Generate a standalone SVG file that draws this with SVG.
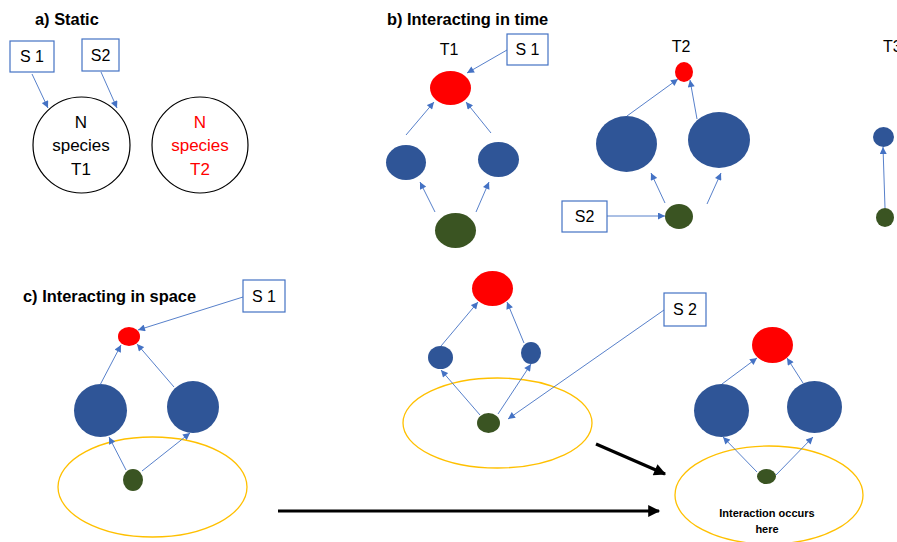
<svg xmlns="http://www.w3.org/2000/svg" width="897" height="542" viewBox="0 0 897 542">
  <style>
    text { font-family: "Liberation Sans", Arial, sans-serif; fill: #000; }
    .title { font-size: 16.4px; font-weight: bold; }
    .lbl { font-size: 16px; text-anchor: middle; }
    .big { font-size: 17px; }
    .box { fill: #fff; stroke: #4472C4; stroke-width: 1.2; }
    .ring { fill: #fff; stroke: #000; stroke-width: 1.2; }
    .red { fill: #FF0000; }
    .blue { fill: #2F5597; }
    .green { fill: #3A5422; }
    .area { fill: none; stroke: #FFC000; stroke-width: 1.3; }
    .link { stroke: #4472C4; stroke-width: 0.9; fill: none; marker-end: url(#tip); }
    .move { stroke: #000; stroke-width: 3.2; fill: none; marker-end: url(#bigtip); }
    .note { font-size: 11px; font-weight: bold; text-anchor: middle; }
  </style>
  <defs>
    <marker id="tip" viewBox="0 0 10 10" refX="10" refY="5" markerWidth="8" markerHeight="7" markerUnits="userSpaceOnUse" orient="auto">
      <path d="M0,0 L10,5 L0,10 z" fill="#4472C4"/>
    </marker>
    <marker id="bigtip" viewBox="0 0 10 10" refX="9" refY="5" markerWidth="14" markerHeight="12" markerUnits="userSpaceOnUse" orient="auto">
      <path d="M0,0 L10,5 L0,10 z" fill="#000"/>
    </marker>
  </defs>

  <!-- panel titles -->
  <text class="title" x="35" y="25">a) Static</text>
  <text class="title" x="387" y="25">b) Interacting in time</text>
  <text class="title" x="23" y="302">c) Interacting in space</text>

  <!-- a) static -->
  <g id="a-s1"><rect class="box" x="10" y="41" width="44" height="31"/><text class="lbl" x="32" y="62">S 1</text></g>
  <g id="a-s2"><rect class="box" x="82" y="39" width="37" height="32"/><text class="lbl" x="100.5" y="61">S2</text></g>
  <g id="a-t1">
    <ellipse class="ring" cx="81.5" cy="145" rx="48.5" ry="48"/>
    <text class="lbl big" x="81" y="128">N</text>
    <text class="lbl big" x="81" y="151">species</text>
    <text class="lbl big" x="81" y="175">T1</text>
  </g>
  <g id="a-t2">
    <ellipse class="ring" cx="200" cy="145" rx="48" ry="48"/>
    <text class="lbl big" x="200" y="128" style="fill:#FF0000">N</text>
    <text class="lbl big" x="200" y="151" style="fill:#FF0000">species</text>
    <text class="lbl big" x="200" y="175" style="fill:#FF0000">T2</text>
  </g>

  <!-- b) interacting in time -->
  <text class="lbl" x="449" y="55">T1</text>
  <text class="lbl" x="681" y="52">T2</text>
  <text class="lbl" x="883" y="52" style="text-anchor:start">T3</text>
  <g id="b-s1"><rect class="box" x="507" y="34" width="41" height="31"/><text class="lbl" x="527.5" y="55">S 1</text></g>
  <g id="b1-top"><ellipse class="red" cx="450.5" cy="88" rx="20.5" ry="17"/></g>
  <g id="b1-midl"><ellipse class="blue" cx="406" cy="162.5" rx="20" ry="17.5"/></g>
  <g id="b1-midr"><ellipse class="blue" cx="498.5" cy="159.5" rx="20.5" ry="17.5"/></g>
  <g id="b1-base"><ellipse class="green" cx="455.5" cy="230.5" rx="20.5" ry="17.5"/></g>

  <g id="b-s2"><rect class="box" x="562" y="201" width="45" height="31"/><text class="lbl" x="584.5" y="222">S2</text></g>
  <g id="b2-top"><ellipse class="red" cx="684" cy="72" rx="9" ry="10"/></g>
  <g id="b2-midl"><ellipse class="blue" cx="626.5" cy="144" rx="30.5" ry="28"/></g>
  <g id="b2-midr"><ellipse class="blue" cx="719" cy="140" rx="31" ry="28"/></g>
  <g id="b2-base"><ellipse class="green" cx="679" cy="216.5" rx="14" ry="12.5"/></g>

  <g id="b3-mid"><ellipse class="blue" cx="883.5" cy="137" rx="10.5" ry="10"/></g>
  <g id="b3-base"><ellipse class="green" cx="885" cy="217.5" rx="9" ry="9.5"/></g>

  <!-- c) interacting in space -->
  <g id="c-s1"><rect class="box" x="243" y="280" width="42" height="32"/><text class="lbl" x="264" y="302">S 1</text></g>
  <g id="c1-area"><ellipse class="area" cx="152.5" cy="487" rx="94.5" ry="50"/></g>
  <g id="c1-top"><ellipse class="red" cx="129" cy="336.5" rx="11" ry="9.5"/></g>
  <g id="c1-midl"><ellipse class="blue" cx="100.5" cy="410.5" rx="26.5" ry="26.5"/></g>
  <g id="c1-midr"><ellipse class="blue" cx="193" cy="407" rx="26" ry="26"/></g>
  <g id="c1-base"><ellipse class="green" cx="133" cy="480" rx="10" ry="11"/></g>

  <g id="c-s2"><rect class="box" x="664" y="293" width="42" height="33"/><text class="lbl" x="685" y="315">S 2</text></g>
  <g id="c2-area"><ellipse class="area" cx="497.5" cy="423" rx="94.5" ry="45"/></g>
  <g id="c2-top"><ellipse class="red" cx="492.5" cy="288.5" rx="20.5" ry="17.5"/></g>
  <g id="c2-midl"><ellipse class="blue" cx="440.5" cy="357.5" rx="12.5" ry="11.5"/></g>
  <g id="c2-midr"><ellipse class="blue" cx="531" cy="353" rx="10" ry="11"/></g>
  <g id="c2-base"><ellipse class="green" cx="488.5" cy="423" rx="11.5" ry="10"/></g>

  <g id="c3-area">
    <ellipse class="area" cx="769" cy="495" rx="94" ry="49"/>
    <text class="note" x="767" y="517">Interaction occurs</text>
    <text class="note" x="767" y="533">here</text>
  </g>
  <g id="c3-top"><ellipse class="red" cx="772.5" cy="345" rx="20.5" ry="18"/></g>
  <g id="c3-midl"><ellipse class="blue" cx="721.5" cy="410.5" rx="27.5" ry="26.5"/></g>
  <g id="c3-midr"><ellipse class="blue" cx="814.5" cy="407" rx="27.5" ry="26"/></g>
  <g id="c3-base"><ellipse class="green" cx="766.5" cy="476.5" rx="9.5" ry="7.5"/></g>

  <!-- connectors -->
  <g id="connectors">
    <line class="link" x1="32" y1="74" x2="48" y2="108"/>
    <line class="link" x1="101" y1="72" x2="117" y2="108"/>

    <line class="link" x1="507" y1="50" x2="467" y2="73"/>
    <line class="link" x1="406" y1="135" x2="434" y2="102"/>
    <line class="link" x1="491" y1="133" x2="466" y2="102"/>
    <line class="link" x1="435" y1="212" x2="420" y2="182"/>
    <line class="link" x1="476" y1="212" x2="489" y2="182"/>

    <line class="link" x1="607" y1="216" x2="665" y2="216"/>
    <line class="link" x1="627" y1="116" x2="678" y2="79"/>
    <line class="link" x1="697" y1="119" x2="690" y2="80"/>
    <line class="link" x1="665" y1="203" x2="651" y2="173"/>
    <line class="link" x1="707" y1="204" x2="721" y2="173"/>

    <line class="link" x1="885" y1="208" x2="883" y2="147"/>

    <line class="link" x1="243" y1="297" x2="138" y2="330"/>
    <line class="link" x1="100" y1="385" x2="121" y2="345"/>
    <line class="link" x1="174" y1="387" x2="137" y2="344"/>
    <line class="link" x1="126" y1="470" x2="109" y2="437"/>
    <line class="link" x1="142" y1="471" x2="190" y2="433"/>

    <line class="link" x1="664" y1="310" x2="508" y2="419"/>
    <line class="link" x1="441" y1="346" x2="478" y2="302"/>
    <line class="link" x1="524" y1="343" x2="507" y2="302"/>
    <line class="link" x1="480" y1="415" x2="441" y2="370"/>
    <line class="link" x1="498" y1="414" x2="531" y2="364"/>

    <line class="link" x1="722" y1="384" x2="757" y2="358"/>
    <line class="link" x1="803" y1="383" x2="787" y2="358"/>
    <line class="link" x1="757" y1="472" x2="723" y2="437"/>
    <line class="link" x1="776" y1="475" x2="813" y2="437"/>

    <line class="move" x1="596" y1="444" x2="665" y2="474"/>
    <line class="move" x1="278" y1="511" x2="659" y2="511"/>
  </g>
</svg>
